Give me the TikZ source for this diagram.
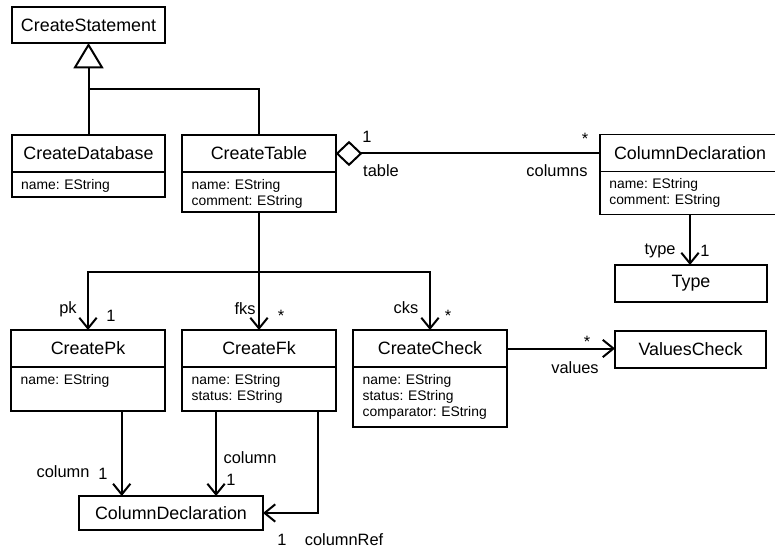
\documentclass[tikz,border=0pt]{standalone}
\usepackage{fontspec}
\setmainfont{Liberation Sans}
\usetikzlibrary{arrows.meta,positioning,calc}
\frenchspacing

\begin{document}
\begin{tikzpicture}[x=0.75pt,y=0.75pt,yscale=-1,xscale=1,
  cls/.style={draw, line width=1.4pt, inner sep=0pt, outer sep=0pt, minimum width=#1, minimum height=27.75pt, font=\fontsize{13.4}{16}\selectfont},
  cls/.default=115pt,
  attrs/.style={draw, line width=1.4pt, outer sep=0pt, inner xsep=7pt, inner ysep=3pt, text width=101pt, align=left, text height=10pt, text depth=#1, font=\fontsize{10.4}{12}\selectfont},
  lbl/.style={anchor=base, inner sep=0pt, font=\fontsize{12.3}{14}\selectfont},
  conn/.style={line width=1.5pt},
  nav/.style={conn, -{Straight Barb[length=8pt,width=13pt]}},
  gen/.style={conn, -{Triangle[open,length=19pt,width=22.5pt]}},
  agg/.style={conn, {Diamond[open,length=20pt,width=19pt]}-}]
\useasboundingbox (0,0) rectangle (775,549);

%Shape: Classes
\node[cls=114.75pt, minimum height=27pt] (stmt) at (88.5,25) {CreateStatement};
\node[cls] (db) at (88.5,153.5) {CreateDatabase};
\node[attrs=2.75pt, below=0pt of db] (dbattr) {name: EString};
\node[cls] (tbl) at (259,153.5) {CreateTable};
\node[attrs=14pt, below=0pt of tbl] (tblattr) {name: EString\\comment: EString};
\node[cls=135pt] (col) at (690,153) {ColumnDeclaration};
\node[attrs=16.25pt, text width=121pt, below=0pt of col] (colattr) {name: EString\\comment: EString};
\node[cls=114pt] (type) at (691,283.5) {Type};
\node[cls] (pk) at (88,348.5) {CreatePk};
\node[attrs=17pt, below=0pt of pk] (pkattr) {name: EString};
\node[cls] (fk) at (259,348.5) {CreateFk};
\node[attrs=17pt, below=0pt of fk] (fkattr) {name: EString\\status: EString};
\node[cls] (chk) at (430,348.5) {CreateCheck};
\node[attrs=29pt, below=0pt of chk] (chkattr) {name: EString\\status: EString\\comparator: EString};
\node[cls=113.25pt] (vals) at (690.5,349.5) {ValuesCheck};
\node[cls=138pt, minimum height=25.5pt] (colref) at (171,513) {ColumnDeclaration};

%Straight Lines: inheritance
\coordinate (genjoin) at (88.5,89);
\draw[gen] (db.north) -- (stmt.south);
\draw[conn] (tbl.north) |- (genjoin);

%Straight Lines: table - columns
\draw[agg] (tbl.east) -- (tbl.east -| col.west);
\draw[nav] (colattr.south) -- (colattr.south |- type.north);

%Straight Lines: pk, fks, cks
\coordinate (split) at (259,272);
\draw[nav] (tblattr.south) -- (fk.north);
\draw[nav] (split) -| (pk.north);
\draw[nav] (split) -| (chk.north);
\draw[nav] (chk.east) -- (chk.east -| vals.west);

%Straight Lines: column refs
\coordinate (pkdrop) at ($(pkattr.south west)!0.72!(pkattr.south east)$);
\coordinate (fkdrop) at ($(fkattr.south west)!0.22!(fkattr.south east)$);
\coordinate (fkref) at ($(fkattr.south west)!0.885!(fkattr.south east)$);
\draw[nav] (pkdrop) -- (pkdrop |- colref.north);
\draw[nav] (fkdrop) -- (fkdrop |- colref.north);
\draw[nav] (fkref) |- (colref.east);

% Text Node
\node[lbl] (m1) at (367,143) {1};
\node[lbl] (r1) at (381,177) {table};
\node[lbl] (m2) at (585,145) {*};
\node[lbl] (r2) at (557,177) {columns};
\node[lbl] (r3) at (660,255) {type};
\node[lbl] (m3) at (705,257) {1};
\node[lbl] (r4) at (68,313) {pk};
\node[lbl] (m4) at (111,321) {1};
\node[lbl] (r5) at (245,314) {fks};
\node[lbl] (m5) at (281,321) {*};
\node[lbl] (r6) at (406,313) {cks};
\node[lbl] (m6) at (448,321) {*};
\node[lbl] (m7) at (587,347) {*};
\node[lbl] (r7) at (575,373) {values};
\node[lbl] (r8) at (63,477) {column};
\node[lbl] (m8) at (103,479) {1};
\node[lbl] (r9) at (250,463) {column};
\node[lbl] (m9) at (231,485) {1};
\node[lbl] (m10) at (282,545) {1};
\node[lbl] (r10) at (344,545) {columnRef};

\end{tikzpicture}
\end{document}
